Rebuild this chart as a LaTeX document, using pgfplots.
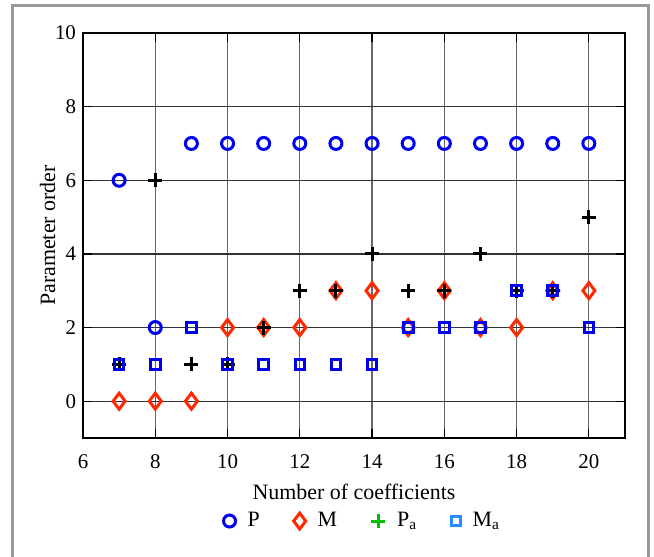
\documentclass[border=0pt]{standalone}
\usepackage{pgfplots}
\pgfplotsset{compat=1.18}
\usepackage{fontspec}
\setmainfont{Liberation Serif}
\usetikzlibrary{calc}
\definecolor{pblue}{RGB}{0,0,240}
\definecolor{mred}{RGB}{255,40,0}
\definecolor{lgreen}{RGB}{0,190,0}
\definecolor{lblue}{RGB}{40,140,255}
\begin{document}
\begin{tikzpicture}
\begin{axis}[
  name=ax,
  scale only axis,
  width=271bp, height=202.5bp,
  xmin=6, xmax=21, ymin=-1, ymax=10,
  xtick={6,8,...,20}, ytick={0,2,...,10},
  grid=major,
  major x grid style={black!60, line width=0.6pt},
  major y grid style={black!80, line width=0.6pt},
  tick align=inside,
  axis line style={black, line width=0.8pt},
  tick style={black, line width=0.6pt},
  /pgf/number format/assume math mode=true,
  ticklabel style={font=\fontsize{10.5}{12}\selectfont},
  xticklabel style={yshift=-5bp},
  label style={font=\fontsize{11}{13}\selectfont},
  xlabel={Number of coefficients},
  ylabel={Parameter order},
  xlabel style={yshift=-0.5bp},
  ylabel style={yshift=-7bp},
  legend style={at={(0.518,-0.205)}, anchor=center, draw=none, fill=none,
    legend columns=4, font=\fontsize{11}{13}\selectfont,
    /tikz/every even column/.append style={column sep=15bp}},
]
\addplot[only marks, forget plot, mark=o, mark size=3bp, mark options={pblue, line width=1.5bp}]
  coordinates {(7,6)(8,2)(9,7)(10,7)(11,7)(12,7)(13,7)(14,7)(15,7)(16,7)(17,7)(18,7)(19,7)(20,7)};
\addplot[only marks, forget plot, mark=diamond, mark size=4bp, mark options={mred, line width=1.5bp}]
  coordinates {(7,0)(8,0)(9,0)(10,2)(11,2)(12,2)(13,3)(14,3)(15,2)(16,3)(17,2)(18,2)(19,3)(20,3)};
\addplot[only marks, forget plot, mark=+, mark size=3.5bp, mark options={black, line width=1.5bp}]
  coordinates {(7,1)(8,6)(9,1)(10,1)(11,2)(12,3)(13,3)(14,4)(15,3)(16,3)(17,4)(18,3)(19,3)(20,5)};
\addplot[only marks, forget plot, mark=square, mark size=2.4bp, mark options={pblue, line width=1.5bp}]
  coordinates {(7,1)(8,1)(9,2)(10,1)(11,1)(12,1)(13,1)(14,1)(15,2)(16,2)(17,2)(18,3)(19,3)(20,2)};
\addlegendimage{only marks, mark=o, mark size=3bp, mark options={pblue, line width=1.5bp}}
\addlegendentry{\hspace{4bp}P}
\addlegendimage{only marks, mark=diamond, mark size=4bp, mark options={mred, line width=1.5bp}}
\addlegendentry{\hspace{4bp}M}
\addlegendimage{only marks, mark=+, mark size=3.5bp, mark options={lgreen, line width=1.5bp}}
\addlegendentry{\hspace{4bp}P$_{\mathrm{a}}$}
\addlegendimage{only marks, mark=square, mark size=2.4bp, mark options={lblue, line width=1.5bp}}
\addlegendentry{\hspace{4bp}M$_{\mathrm{a}}$}
\end{axis}
\useasboundingbox ($(ax.south west)+(-41.5bp,-59.5bp)$) rectangle ($(ax.south west)+(285.5bp,219bp)$);
\draw[black!40, line width=1.5bp]
  ($(ax.south west)+(-35bp,-60bp)$) -- ($(ax.south west)+(-35bp,216bp)$)
  -- ($(ax.south west)+(282.5bp,216bp)$) -- ($(ax.south west)+(282.5bp,-60bp)$);
\end{tikzpicture}
\end{document}
